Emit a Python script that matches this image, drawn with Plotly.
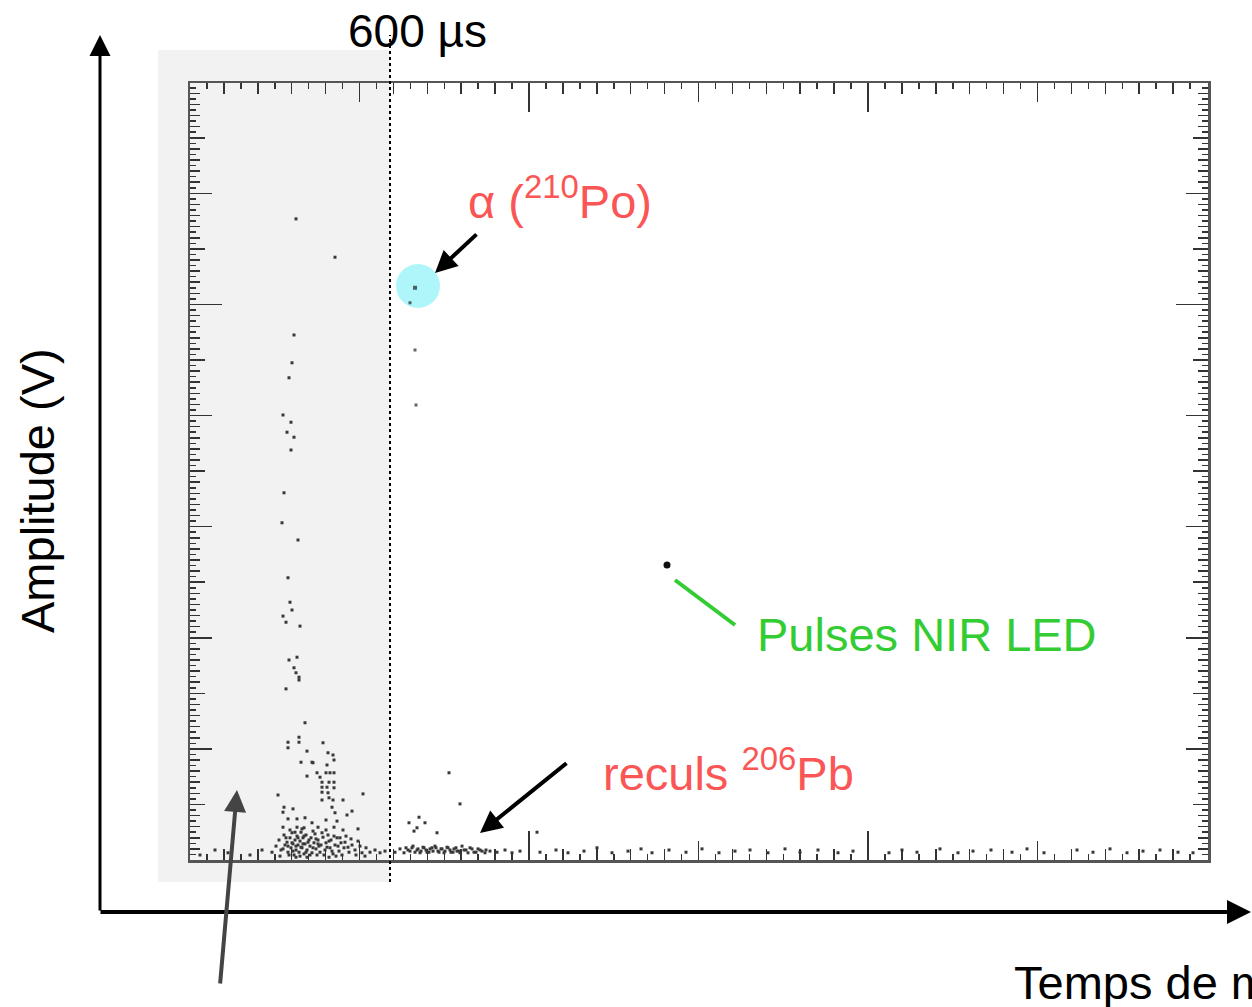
import plotly.graph_objects as go

# ---------------- data ----------------
# time in microseconds, amplitude in mV
bg_time_us = [318, 435, 312, 306, 297, 279, 303, 291, 312, 303, 282, 276, 324, 294,
              300, 306, 279, 288, 330, 297, 321, 312, 318, 327, 327, 288, 345, 327,
              327, 294, 294, 399, 351, 414, 429, 432, 333, 366, 369, 411, 381, 351,
              408, 420, 432, 390, 396, 417, 432, 396, 411, 432, 396, 414, 264, 519,
              417, 429, 459, 396, 282, 309, 426, 279, 486, 471, 435, 345, 294, 321,
              408, 441, 366, 279, 321, 342, 384, 432, 459, 504]
bg_amp_mV = [1154, 1085, 945, 895, 868, 801, 788, 770, 761, 738, 661, 607, 576, 508,
             464, 450, 439, 428, 421, 360, 365, 346, 337, 329, 324, 308, 247, 221,
             212, 212, 202, 211, 196, 193, 189, 180, 176, 176, 175, 171, 157, 151,
             157, 157, 157, 149, 140, 140, 140, 131, 131, 130, 122, 121, 117, 119,
             112, 108, 108, 108, 95, 92, 95, 86, 88, 81, 85, 76, 74, 74,
             72, 70, 67, 59, 59, 58, 59, 59, 54, 56]

dense_time_us = [246, 258, 267, 273, 282, 285, 291, 294, 300, 303, 306, 309, 312, 315,
                 318, 321, 324, 327, 330, 333, 336, 339, 342, 345, 348, 351, 354, 360,
                 363, 366, 372, 375, 378, 384, 390, 393, 399, 405, 408, 414, 420, 423,
                 429, 435, 441, 447, 453, 462, 468, 477, 486, 495, 504, 516, 528, 540,
                 555, 570, 585, 30, 75, 114, 180, 216,
                 270, 279, 288, 297, 306, 309, 315, 318, 324, 330, 333, 339, 342, 348,
                 357, 360, 369, 378, 381, 387, 396, 402, 411, 417, 426, 432, 438, 444,
                 456, 465, 474, 483, 498, 510, 525, 300, 336, 369, 408, 294, 318, 351,
                 384, 417, 450]
dense_amp_mV = [14, 25, 36, 18, 45, 27, 32, 14, 40, 22, 49, 29, 9, 36,
                18, 43, 27, 14, 34, 50, 22, 40, 11, 29, 45, 18, 32, 25,
                40, 13, 31, 47, 20, 36, 14, 27, 41, 18, 31, 45, 22, 36,
                11, 27, 40, 16, 31, 22, 43, 14, 27, 18, 34, 13, 22, 14,
                18, 13, 16, 9, 18, 13, 9, 18,
                7, 20, 40, 9, 31, 16, 50, 25, 40, 7, 23, 29, 43, 14,
                36, 9, 22, 38, 9, 25, 49, 9, 23, 34, 16, 43, 7, 25,
                9, 32, 23, 38, 9, 25, 7, 54, 56, 52, 54, 25, 5, 5,
                29, 5, 40]

recoil_time_us = [657, 687, 705, 672, 681, 741, 777, 810,
                  615, 630, 642, 654, 666, 675, 684, 693, 702, 711, 720, 729, 738,
                  747, 756, 765, 774, 783, 792, 801, 810, 822, 834, 846, 858, 870,
                  885, 900, 921, 945, 966, 990, 1041,
                  648, 660, 669, 681, 690, 699, 708, 717, 726, 735, 744, 753, 762,
                  771, 780, 789, 798, 807, 816, 828, 840, 852, 864, 876, 888]
recoil_amp_mV = [67, 77, 67, 52, 58, 49, 157, 101,
                 14, 20, 13, 18, 22, 14, 20, 16, 22, 14, 20, 16, 22,
                 14, 20, 16, 22, 14, 20, 16, 13, 18, 13, 20, 14, 18,
                 13, 16, 14, 18, 13, 16, 50,
                 22, 16, 25, 18, 13, 23, 18, 14, 22, 25, 16, 20, 13,
                 23, 18, 14, 22, 16, 25, 18, 22, 14, 20, 16, 18]

base_time_us = [1050, 1098, 1134, 1182, 1221, 1266, 1314, 1353, 1386, 1437, 1488, 1536,
                1587, 1635, 1680, 1734, 1785, 1830, 1884, 1944, 1989, 2097, 2136, 2181,
                2250, 2304, 2349, 2403, 2466, 2511, 2562, 2661, 2709, 2760, 2811, 2859,
                2910, 2964, 3009]
base_amp_mV = [14, 18, 13, 16, 22, 13, 16, 20, 13, 18, 14, 20,
               13, 16, 18, 13, 20, 14, 18, 13, 16, 13, 18, 14,
               20, 13, 16, 18, 14, 20, 13, 18, 14, 20, 13, 16,
               18, 14, 13]

alpha_time_us = [675, 660, 675, 678]
alpha_amp_mV = [1030, 1003, 918, 819]

led_time_us = [1431]
led_amp_mV = [531]

cut_time_us = 600
x_range = [0, 3054]
y_range = [0, 1398.6]

# ---------------- layout geometry helpers (pixel -> paper) ----------------
W, H = 1252, 1007
L, R, T, B = 190, 1208, 83, 860


def px(xp):
    return (xp - L) / (R - L)


def py(yp):
    return (B - yp) / (B - T)


RED = '#fa5656'
GREEN = '#33cc33'
FONT = 'Liberation Sans, Arial, sans-serif'

fig = go.Figure()

pt_color = '#383838'
for xs, ys in [(bg_time_us, bg_amp_mV), (dense_time_us, dense_amp_mV),
               (recoil_time_us, recoil_amp_mV), (base_time_us, base_amp_mV)]:
    fig.add_trace(go.Scatter(x=xs, y=ys, mode='markers',
                             marker=dict(symbol='square', size=3, color=pt_color,
                                         line=dict(width=0)),
                             showlegend=False, hoverinfo='skip'))
fig.add_trace(go.Scatter(x=alpha_time_us, y=alpha_amp_mV, mode='markers',
                         marker=dict(symbol='square', size=[4, 3, 3, 3], color='#222',
                                     line=dict(width=0)),
                         showlegend=False, hoverinfo='skip'))
fig.add_trace(go.Scatter(x=led_time_us, y=led_amp_mV, mode='markers',
                         marker=dict(symbol='circle', size=7, color='#111',
                                     line=dict(width=0)),
                         showlegend=False, hoverinfo='skip'))

# ---------------- axes (frame with three levels of ticks) ----------------
tick_col = '#333'
common = dict(showgrid=False, zeroline=False, showticklabels=False,
              ticks='inside', tickcolor=tick_col, tickwidth=1.5, mirror='ticks')

fig.update_layout(
    width=W, height=H, autosize=False,
    margin=dict(l=L, r=W - R, t=T, b=H - B, pad=0),
    paper_bgcolor='white', plot_bgcolor='rgba(0,0,0,0)',
    font=dict(family=FONT, color='black'),
    xaxis=dict(range=x_range, showline=True, linecolor='#555', linewidth=2.5,
               tickmode='linear', tick0=0, dtick=1017, ticklen=29,
               minor=dict(dtick=508.5, ticklen=19, tickcolor=tick_col, tickwidth=1.5,
                          ticks='inside'),
               **common),
    xaxis2=dict(range=x_range, overlaying='x', anchor='y', showline=False,
                tickmode='linear', tick0=0, dtick=101.7, ticklen=11,
                minor=dict(dtick=50.85, ticklen=6, tickcolor=tick_col, tickwidth=1.5,
                           ticks='inside'),
                **common),
    yaxis=dict(range=y_range, showline=True, linecolor='#555', linewidth=2.5,
               tickmode='linear', tick0=0, dtick=200, ticklen=22,
               minor=dict(dtick=100, ticklen=15, tickcolor=tick_col, tickwidth=1.5,
                          ticks='inside'),
               **common),
    yaxis2=dict(range=y_range, overlaying='y', anchor='x', showline=False,
                tickmode='linear', tick0=0, dtick=20, ticklen=10,
                minor=dict(dtick=10, ticklen=6, tickcolor=tick_col, tickwidth=1.5,
                           ticks='inside'),
                **common),
    yaxis3=dict(range=y_range, overlaying='y', anchor='x', showline=False,
                tickmode='array', tickvals=[1000], ticklen=32, **common),
)
# invisible traces to activate the overlay axes
fig.add_trace(go.Scatter(x=[None], y=[None], xaxis='x2', yaxis='y2', showlegend=False))
fig.add_trace(go.Scatter(x=[None], y=[None], xaxis='x', yaxis='y3', showlegend=False))

# ---------------- shapes ----------------
cut_px = L + (cut_time_us - x_range[0]) / (x_range[1] - x_range[0]) * (R - L)
shapes = [
    # grey shaded "rejected" region
    dict(type='rect', xref='paper', yref='paper', x0=px(158), x1=px(cut_px),
         y0=py(882), y1=py(50), fillcolor='#f2f2f2', line=dict(width=0), layer='below'),
    # cyan highlight around the alpha event
    dict(type='circle', xref='paper', yref='paper', x0=px(396), x1=px(440),
         y0=py(308), y1=py(264), fillcolor='#aef6fa', line=dict(width=0), layer='below'),
    # dotted 600 us cut line
    dict(type='line', xref='paper', yref='paper', x0=px(cut_px), x1=px(cut_px),
         y0=py(882), y1=py(35), line=dict(color='black', width=2, dash='dot')),
    # green pointer line
    dict(type='line', xref='paper', yref='paper', x0=px(675), y0=py(580),
         x1=px(735), y1=py(625), line=dict(color=GREEN, width=4)),
]
fig.update_layout(shapes=shapes)

# ---------------- annotations ----------------
ann = []


def arrow(head, tail, color='black', width=4, size=1.1):
    ann.append(dict(xref='paper', yref='paper', x=px(head[0]), y=py(head[1]),
                    ax=tail[0] - head[0], ay=tail[1] - head[1], text='',
                    showarrow=True, arrowhead=2, arrowsize=size, arrowwidth=width,
                    arrowcolor=color))


arrow((100, 35), (100, 912), width=3, size=1.4)       # vertical axis
arrow((1262, 912), (99, 912), width=4, size=1.2)      # horizontal axis
arrow((435, 273), (478, 233))                          # alpha
arrow((480, 833), (568, 762))                          # recoils
arrow((237, 790), (220, 985), color='#444', width=4)  # grey region


def text(t, x, y, size, color='black', xanchor='center', angle=0):
    ann.append(dict(xref='paper', yref='paper', x=px(x), y=py(y), text=t,
                    showarrow=False, xanchor=xanchor, yanchor='middle',
                    textangle=angle, font=dict(size=size, color=color, family=FONT)))


text('600 µs', 417, 31, 46)
text('α (<sup>210</sup>Po)', 466, 198, 47, RED, xanchor='left')
text('Pulses NIR LED', 755, 634, 47, GREEN, xanchor='left')
text('reculs <sup>206</sup>Pb', 601, 770, 47, RED, xanchor='left')
text('Amplitude (V)', 37, 491, 47, angle=-90)
text('Temps de montée', 1012, 983, 47, xanchor='left')

fig.update_layout(annotations=ann)

fig.write_html('out.html', config={'displayModeBar': False, 'staticPlot': True},
               post_script="document.body.style.margin='0';"
                           "document.body.style.overflow='hidden';")
